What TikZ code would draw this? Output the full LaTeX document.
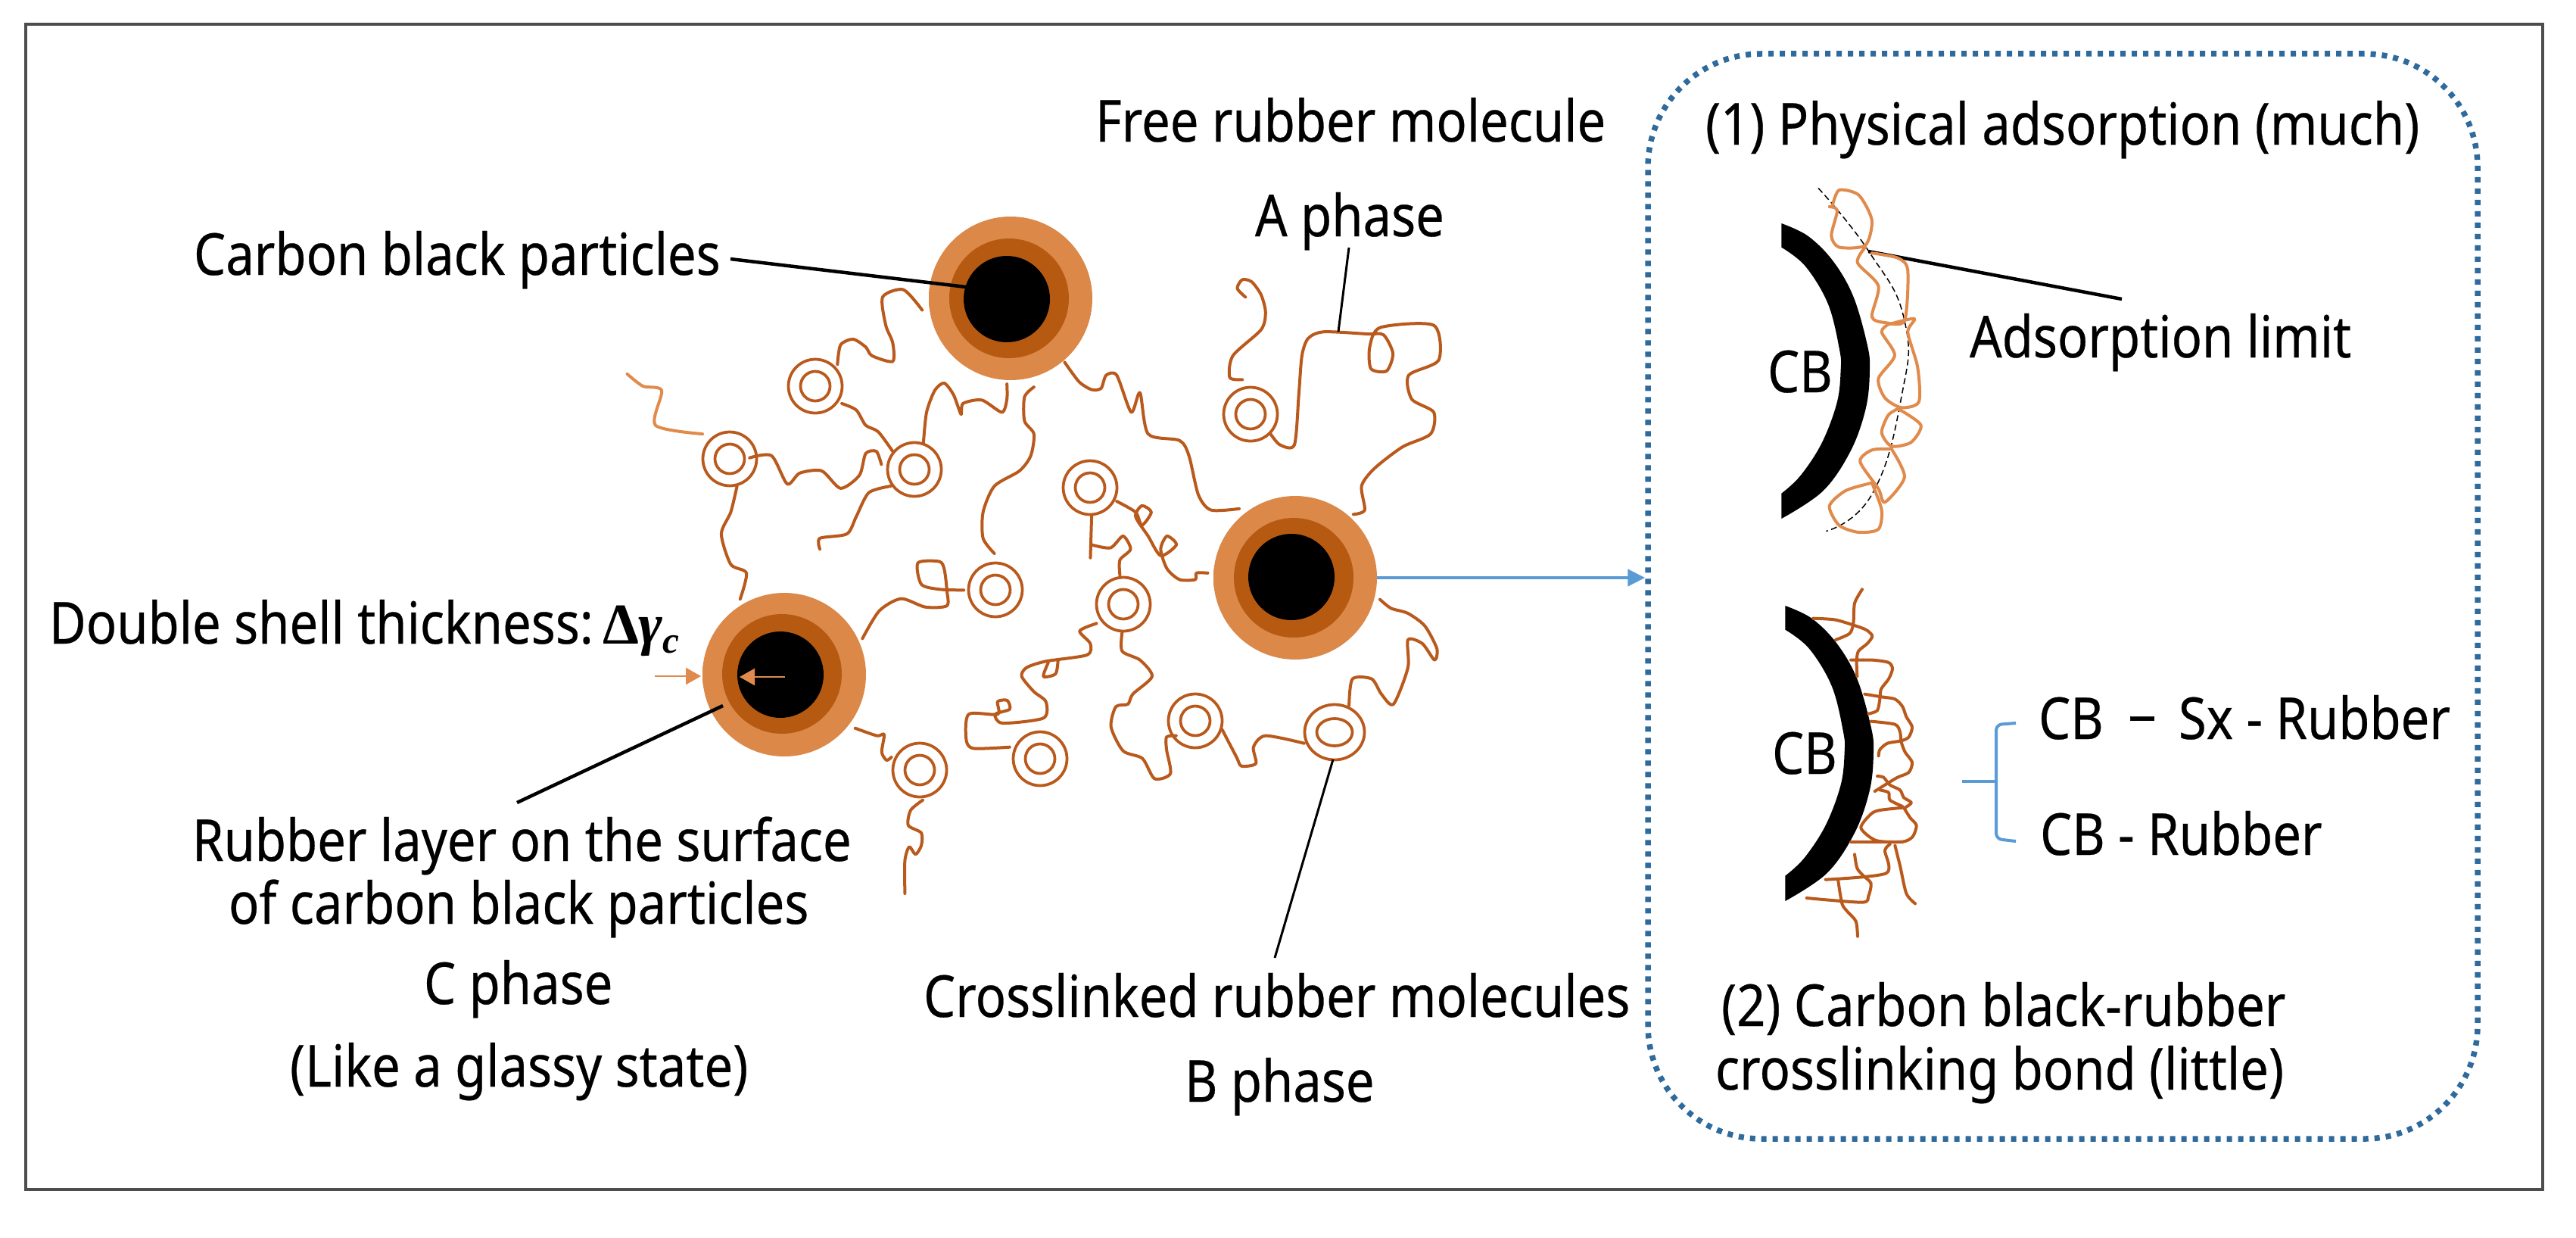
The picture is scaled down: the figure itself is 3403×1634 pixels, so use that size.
\documentclass[tikz,border=0pt]{standalone}
\usepackage{fontspec}
\usetikzlibrary{shapes.geometric,arrows.meta}
\newfontfamily\lab[FakeStretch=0.875,FakeBold=0.35]{Noto Sans}
\newfontfamily\symf{Liberation Serif}
\definecolor{chainc}{HTML}{B9591C}
\definecolor{lightc}{HTML}{E08A4B}
\definecolor{midc}{HTML}{B65A12}
\definecolor{outa}{HTML}{DB8849}
\definecolor{outb}{HTML}{E6A276}
\definecolor{frm}{HTML}{4D4D4D}
\definecolor{dotc}{HTML}{2F6A9C}
\definecolor{bluec}{HTML}{5B9BD5}
\pgfdeclareradialshading{pshade}{\pgfpoint{0bp}{0bp}}{color(0bp)=(outa); color(36bp)=(outa); color(49bp)=(outb); color(50bp)=(outb)}
\tikzset{
  txt/.style={anchor=base west,inner sep=0pt,outer sep=0pt,font=\lab\fontsize{43.5}{50}\selectfont},
  chain/.style={draw=chainc,line width=0.8mm,line join=round,line cap=round,smooth,tension=0.45},
  lchain/.style={draw=lightc,line width=0.8mm,line join=round,line cap=round,smooth,tension=0.45},
  leader/.style={draw=black,line width=0.9mm},
  ringout/.style={circle,draw=chainc,line width=0.75mm,minimum size=14.2mm,inner sep=0pt},
  ringin/.style={circle,draw=chainc,line width=0.75mm,minimum size=7.8mm,inner sep=0pt},
  pout/.style={circle,shading=pshade,minimum size=43.2mm,inner sep=0pt},
  pmid/.style={circle,fill=midc,minimum size=31.6mm,inner sep=0pt},
  pcore/.style={circle,fill=black,minimum size=22.8mm,inner sep=0pt},
  zoomA/.style={shift={(700,200)},x=0.16584mm,y=-0.11481mm},
  zoomB/.style={shift={(1050,700)},x=0.12755mm,y=-0.06667mm},
  zoomC/.style={shift={(2050,0)},x=0.17256mm,y=-0.10204mm},
  zoomE/.style={shift={(2340,760)},x=0.06667mm,y=-0.06667mm},
  cbarc/.pic={
    \fill[black] plot[smooth,tension=0.6] coordinates {(55,120)(160,170)(260,270)(340,410)(395,600)(405,700)(390,850)(330,1020)(220,1180)(55,1290)}
      -- plot[smooth,tension=0.6] coordinates {(55,1190)(130,1120)(215,990)(275,830)(290,700)(285,620)(240,440)(150,290)(55,215)} -- cycle;
  },
}
\begin{document}
\begin{tikzpicture}[x=0.2mm,y=-0.2mm]
\useasboundingbox (0,0) rectangle (3403,1634);
\fill[white] (0,0) rectangle (3403,1634);
\draw[frm,line width=0.9mm] (34,32) rectangle (3359,1571);
\node[draw=dotc,line width=1.5mm,dash pattern=on 1.4mm off 1.6mm,rounded corners=30mm,minimum width=219.2mm,minimum height=286.6mm,inner sep=0pt] (panel) at (2725,787.5) {};

% molecular chains, upper part
\begin{scope}[zoomA]
\draw[chain] plot coordinates {(490,490)(495,445)(515,432)(535,450)(545,470)(578,483)(578,440)(567,400)(562,335)(595,318)(625,365)};
\draw[chain] plot coordinates {(497,580)(520,595)(535,630)(555,645)(578,690)};
\draw[chain] plot coordinates {(627,670)(632,600)(645,550)(660,533)(675,560)(687,605)(690,580)(720,572)(752,600)(760,570)(760,535)};
\draw[chain] plot coordinates {(803,542)(788,565)(788,620)(803,650)(798,700)(780,735)(740,770)(722,830)(722,890)(740,925)};
\draw[chain] plot coordinates {(852,485)(875,530)(895,548)(910,545)(918,515)(935,515)(958,600)(972,555)(985,650)(1035,665)(1050,700)(1065,790)(1085,825)(1130,822)};
\draw[chain] plot coordinates {(1135,525)(1115,520)(1120,470)(1165,410)(1172,370)(1165,330)(1150,300)(1135,295)(1127,315)(1140,335)};
\draw[chain] plot coordinates {(1180,650)(1195,675)(1218,675)(1225,560)(1230,470)(1240,430)(1265,415)(1335,420)(1360,422)(1375,465)(1365,505)(1340,500)(1338,450)(1355,405)(1440,400)(1448,480)(1400,515)(1405,570)(1440,600)(1435,650)(1390,680)(1345,730)(1325,770)(1330,825)(1312,835)};
\draw[lchain] plot coordinates {(155,512)(180,540)(210,550)(200,630)(275,650)};
\draw[chain] plot coordinates {(350,705)(385,700)(410,765)(430,740)(465,735)(495,775)(525,745)(535,695)(552,690)(560,720)};
\draw[chain] plot coordinates {(575,770)(540,785)(520,840)(505,880)(462,890)(462,915)};
\draw[chain] plot coordinates {(330,770)(320,830)(305,880)(320,950)(345,970)(335,1030)};
\draw[chain] plot coordinates {(895,838)(893,935)};
\draw[chain] plot coordinates {(895,905)(925,912)(945,885)(957,915)(940,940)(940,975)};
\draw[chain] plot coordinates {(935,805)(965,830)(975,860)(990,830)(975,815)(965,840)(985,885)(1005,930)(1030,905)(1015,885)(1005,915)(1015,960)(1035,985)(1060,985)(1062,970)(1080,970)};
\end{scope}

% molecular chains, lower part
\begin{scope}[zoomB]
\draw[chain] plot coordinates {(265,1070)(240,1110)(235,1170)(262,1200)(262,1250)(250,1285)(237,1255)(228,1310)(228,1440)};
\draw[chain] plot coordinates {(125,785)(170,815)(185,810)(180,880)(190,912)(200,900)};
\draw[chain] plot coordinates {(140,430)(175,320)(220,272)(270,305)(315,300)(315,240)(310,160)(300,125)(255,130)(262,215)(300,235)(350,238)};
\draw[chain] plot coordinates {(625,370)(590,400)(612,450)(605,495)(520,520)(480,545)(470,580)(495,640)(520,680)(515,745)(430,765)(415,730)(445,710)(440,675)(420,680)(420,730)(360,730)(355,830)(370,865)(445,860)};
\draw[chain] plot coordinates {(545,520)(540,570)(515,580)(525,525)};
\draw[chain] plot coordinates {(678,405)(678,480)(715,515)(740,580)(700,650)(690,690)(665,700)(655,780)(680,875)(720,905)(745,985)(778,965)(770,870)(770,820)(790,815)};
\draw[chain] plot coordinates {(885,790)(915,900)(925,935)(955,925)(950,860)(975,815)(1055,845)};
\draw[chain] plot coordinates {(1148,695)(1155,590)(1195,590)(1215,650)(1240,690)(1270,545)(1270,435)(1300,450)(1325,515)(1330,470)(1305,380)(1270,330)(1235,310)(1212,275)};
\end{scope}

% rings
\foreach \n/\rx/\ry in {a/1077/510,b/964/606,c/1208/620,d/1652/547,e/1440/644,f/1315/779,g/1484/798,h/1215/1017,i/1374/1002,j/1579/952}{
  \node[ringout] (r\n) at (\rx,\ry) {};
  \node[ringin] at (r\n) {};
}
\node[ellipse,draw=chainc,line width=0.75mm,minimum width=15.8mm,minimum height=14.6mm,inner sep=0pt] (rk) at (1763,967) {};
\node[ellipse,draw=chainc,line width=0.75mm,minimum width=9.4mm,minimum height=7.2mm,inner sep=0pt] (rki) at (1763,967) {};

% carbon black particles
\node[pout] (pA) at (1335,394) {};
\node[pmid] at (1333,394) {};
\node[pcore] (cA) at (1330,395) {};
\node[pout] (pB) at (1711,763) {};
\node[pmid] at (1709,763) {};
\node[pcore] at (1706,762) {};
\node[pout] (pC) at (1036,891) {};
\node[pmid] at (1033,890) {};
\node[pcore] at (1031,891) {};

% thickness arrows
\draw[-{Triangle[length=4mm,width=4.4mm]},draw=lightc,fill=lightc,line width=0.5mm] (865,893) -- (926,893);
\draw[-{Triangle[length=4mm,width=4.4mm]},draw=lightc,fill=lightc,line width=0.5mm] (1037,894) -- (977,894);

% main arrow
\draw[-{Triangle[length=4.6mm,width=4.4mm]},draw=bluec,fill=bluec,line width=0.9mm] (pB.east) -- (pB.east -| panel.west);

% labels
\node[txt] (t1) at (1447,187) {Free rubber molecule};
\node[txt] (t2) at (1658,312) {A phase};
\node[txt] (t3) at (256,363) {Carbon black particles};
\node[txt] (t4) at (65,850) {Double shell thickness:};
\node[txt] (t4b) at (796,850) {{\symf\bfseries Δ}{\symf\bfseries\itshape γ\raisebox{-2.4mm}{\fontsize{28}{30}\selectfont c}}};
\node[txt] (t5) at (254,1137) {Rubber layer on the surface};
\node[txt] (t6) at (302,1220) {of carbon black particles};
\node[txt] (t7) at (560,1326) {C phase};
\node[txt] (t8) at (383,1435) {(Like a glassy state)};
\node[txt] (t9) at (1220,1343) {Crosslinked rubber molecules};
\node[txt] (t10) at (1565,1455) {B phase};
\node[txt] (t11) at (2253,191) {(1) Physical adsorption (much)};
\node[txt] (t12) at (2602,472) {Adsorption limit};
\node[txt] (t13) at (2335,518) {CB};
\node[txt] (t14) at (2341,1022) {CB};
\node[txt] (t15) at (2693,976) {CB};
\node[txt] (t16) at (2811,976) {−};
\node[txt] (t17) at (2878,976) {Sx - Rubber};
\node[txt] (t18) at (2695,1129) {CB - Rubber};
\node[txt] (t19) at (2274,1355) {(2) Carbon black-rubber};
\node[txt] (t20) at (2266,1439) {crosslinking bond (little)};

% leaders
\coordinate (la) at (965,342); \coordinate (lb) at (1276,379);
\draw[leader] (la) -- (lb);
\coordinate (lc) at (1782,327); \coordinate (ld) at (1768,438);
\draw[leader,line width=0.6mm] (lc) -- (ld);
\coordinate (le) at (955,932); \coordinate (lf) at (683,1060);
\draw[leader] (le) -- (lf);
\coordinate (lg) at (1761,1003); \coordinate (lh) at (1684,1265);
\draw[leader,line width=0.6mm] (lg) -- (lh);
\coordinate (li) at (2468,332); \coordinate (lj) at (2803,395);
\draw[leader] (li) -- (lj);

% brace
\draw[bluec,line width=0.8mm,rounded corners=1.5mm] (2663,955) -- (2637,957) -- (2637,1108) -- (2663,1111);
\draw[bluec,line width=0.8mm] (2592,1032) -- (2637,1032);

% CB arcs
\begin{scope}[shift={(-5,-505)}]
\begin{scope}[zoomE]
\pic {cbarc};
\end{scope}
\end{scope}
\begin{scope}[zoomE]
\pic {cbarc};
\end{scope}

% adsorbed rubber
\begin{scope}[zoomC]
\draw[black,line width=0.3mm,dash pattern=on 1.6mm off 0.9mm,smooth,tension=0.8] plot coordinates {(408,487)(485,650)(540,830)(535,1030)(490,1280)(420,1375)};
\draw[lchain] plot coordinates {(430,530)(440,492)(470,505)(490,570)(480,635)(440,640)(428,610)(437,545)(425,535)};
\draw[lchain] plot coordinates {(480,640)(468,680)(500,740)(490,820)(510,835)(540,830)(545,700)(530,668)(490,655)};
\draw[lchain] plot coordinates {(515,840)(555,825)(545,860)(560,950)(562,1040)(535,1055)(510,1030)(500,980)(525,920)(505,860)(515,840)};
\draw[lchain] plot coordinates {(530,1058)(565,1100)(550,1145)(520,1155)(505,1120)(515,1075)(530,1058)};
\draw[lchain] plot coordinates {(520,1162)(490,1165)(472,1195)(500,1265)(510,1300)(540,1235)(520,1162)};
\draw[lchain] plot coordinates {(490,1250)(450,1270)(425,1310)(440,1360)(470,1378)(500,1370)(505,1320)(490,1250)};
\end{scope}

% crosslinked rubber
\begin{scope}[zoomE,every path/.append style={tension=0.35}]
\draw[chain] plot coordinates {(360,55)(330,110)(325,190)(310,230)(255,255)};
\draw[chain] plot coordinates {(165,170)(250,175)(320,195)(375,215)(400,240)(380,270)(345,300)(338,340)(340,400)};
\draw[chain] plot coordinates {(315,335)(400,335)(465,345)(480,370)(465,410)(435,450)(430,490)(420,535)(385,548)};
\draw[chain] plot coordinates {(370,470)(430,480)(490,490)(520,520)(535,560)(558,600)(545,640)(515,655)(460,665)(430,690)(425,715)};
\draw[chain] plot coordinates {(395,578)(490,590)(510,620)(515,660)(530,700)(558,740)(545,780)(500,800)(450,830)(410,855)};
\draw[chain] plot coordinates {(420,795)(445,800)(470,830)(510,850)(525,880)(555,900)(530,920)};
\draw[chain] plot coordinates {(430,850)(465,860)(470,890)(520,915)};
\draw[chain] plot coordinates {(520,920)(430,930)(395,945)(355,1000)(415,1050)(520,1055)(560,1035)(575,990)(550,960)(525,920)};
\draw[chain] (315,1055) -- (520,1055);
\draw[chain] plot coordinates {(470,1065)(450,1090)(455,1180)(215,1205)};
\draw[chain] plot coordinates {(490,1070)(510,1150)(535,1260)(570,1300)};
\draw[chain] plot coordinates {(330,1105)(340,1160)(365,1190)(395,1220)(385,1270)(360,1295)(140,1278)};
\draw[chain] plot coordinates {(265,1210)(280,1300)(300,1330)(335,1370)(342,1430)};
\end{scope}
\end{tikzpicture}
\end{document}
